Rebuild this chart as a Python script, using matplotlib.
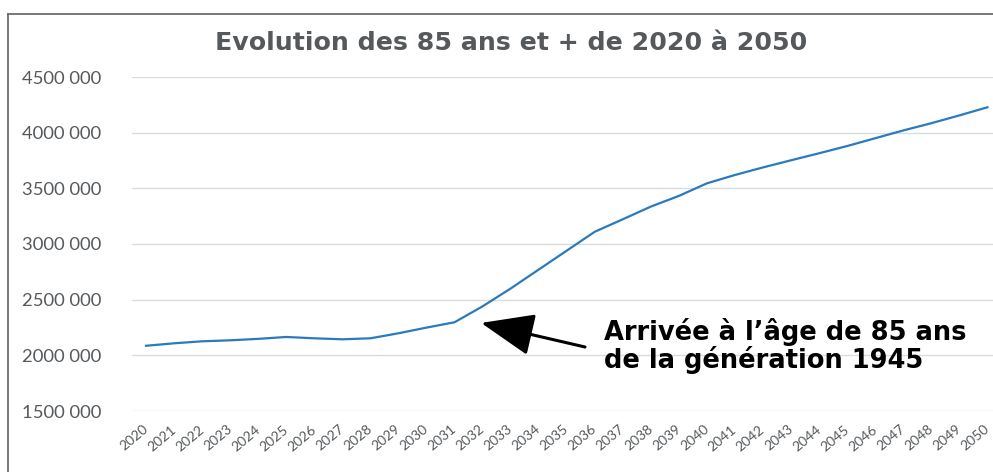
"""
Evolution des 85 ans et + de 2020 a 2050 (line chart with annotation).
"""

import matplotlib
matplotlib.use("Agg")
import matplotlib.pyplot as plt
from matplotlib.lines import Line2D

# data
years = list(range(2020, 2051))
pop_85_plus = [
    2086000, 2108000, 2126000, 2135000, 2148000, 2165000, 2153000, 2144000,
    2153000, 2198000, 2249000, 2297000, 2440000, 2600000, 2770000, 2940000,
    3110000, 3222000, 3336000, 3432000, 3545000, 3620000, 3688000, 3752000,
    3815000, 3880000, 3950000, 4020000, 4085000, 4155000, 4228000,
]
y_ticks = [1500000, 2000000, 2500000, 3000000, 3500000, 4000000, 4500000]
y_tick_labels = ["1500 000", "2000 000", "2500 000", "3000 000",
                 "3500 000", "4000 000", "4500 000"]

title = "Evolution des 85 ans et + de 2020 à 2050"
note = "Arrivée à l\u2019âge de 85 ans\nde la génération 1945"
arrow_tip = (2031.95, 2291000)

FONT = "Lato"
BOLD_FONT = "DejaVu Sans"
GREY = "#55595c"

fig = plt.figure(figsize=(9.93, 4.72), dpi=100)
W, H = 993, 472
ax = fig.add_axes([132 / W, (H - 411) / H, 1 - 132 / W, (411 - 77) / H])

ax.plot(years, pop_85_plus, color="#2a7abf", lw=1.6)

ax.set_xlim(2019.5, 2050.2)
ax.set_ylim(1500000, 4500000)
ax.set_yticks(y_ticks)
ax.set_yticklabels(y_tick_labels, fontsize=13.3, color=GREY, family=FONT)
ax.set_xticks(years)
ax.set_xticklabels([str(y) for y in years], rotation=40, ha="right", va="center",
                   rotation_mode="anchor", fontsize=10, color=GREY, family=FONT)
ax.tick_params(axis="y", length=0, pad=22)
ax.tick_params(axis="x", length=0, pad=12)
ax.grid(axis="y", color="#d8dcdc", lw=1)
ax.set_axisbelow(True)
for s in ax.spines.values():
    s.set_visible(False)

# outer frame (top and left edges only are visible)
fx, fy = 8 / W, 1 - 14 / H
fig.lines.append(Line2D([fx, 1.0], [fy, fy], transform=fig.transFigure,
                        color="#6b6e70", lw=1.3))
fig.lines.append(Line2D([fx, fx], [0.0, fy], transform=fig.transFigure,
                        color="#6b6e70", lw=1.3))

fig.text(511 / W, 1 - 43 / H, title, ha="center", va="center",
         fontsize=18.2, fontweight="bold", color=GREY, family=BOLD_FONT)

ax.annotate("", xy=arrow_tip, xycoords="data",
            xytext=(585 / W, 1 - 347 / H), textcoords="figure fraction",
            arrowprops=dict(arrowstyle="-|>,head_length=1.5,head_width=0.6",
                            mutation_scale=22, color="black", lw=2.2,
                            shrinkA=0, shrinkB=0))
fig.text(604 / W, 1 - 346 / H, note, ha="left", va="center",
         fontsize=18.5, fontweight="bold", color="black", family=BOLD_FONT,
         linespacing=1.02)

plt.savefig("out.png", dpi=100)
